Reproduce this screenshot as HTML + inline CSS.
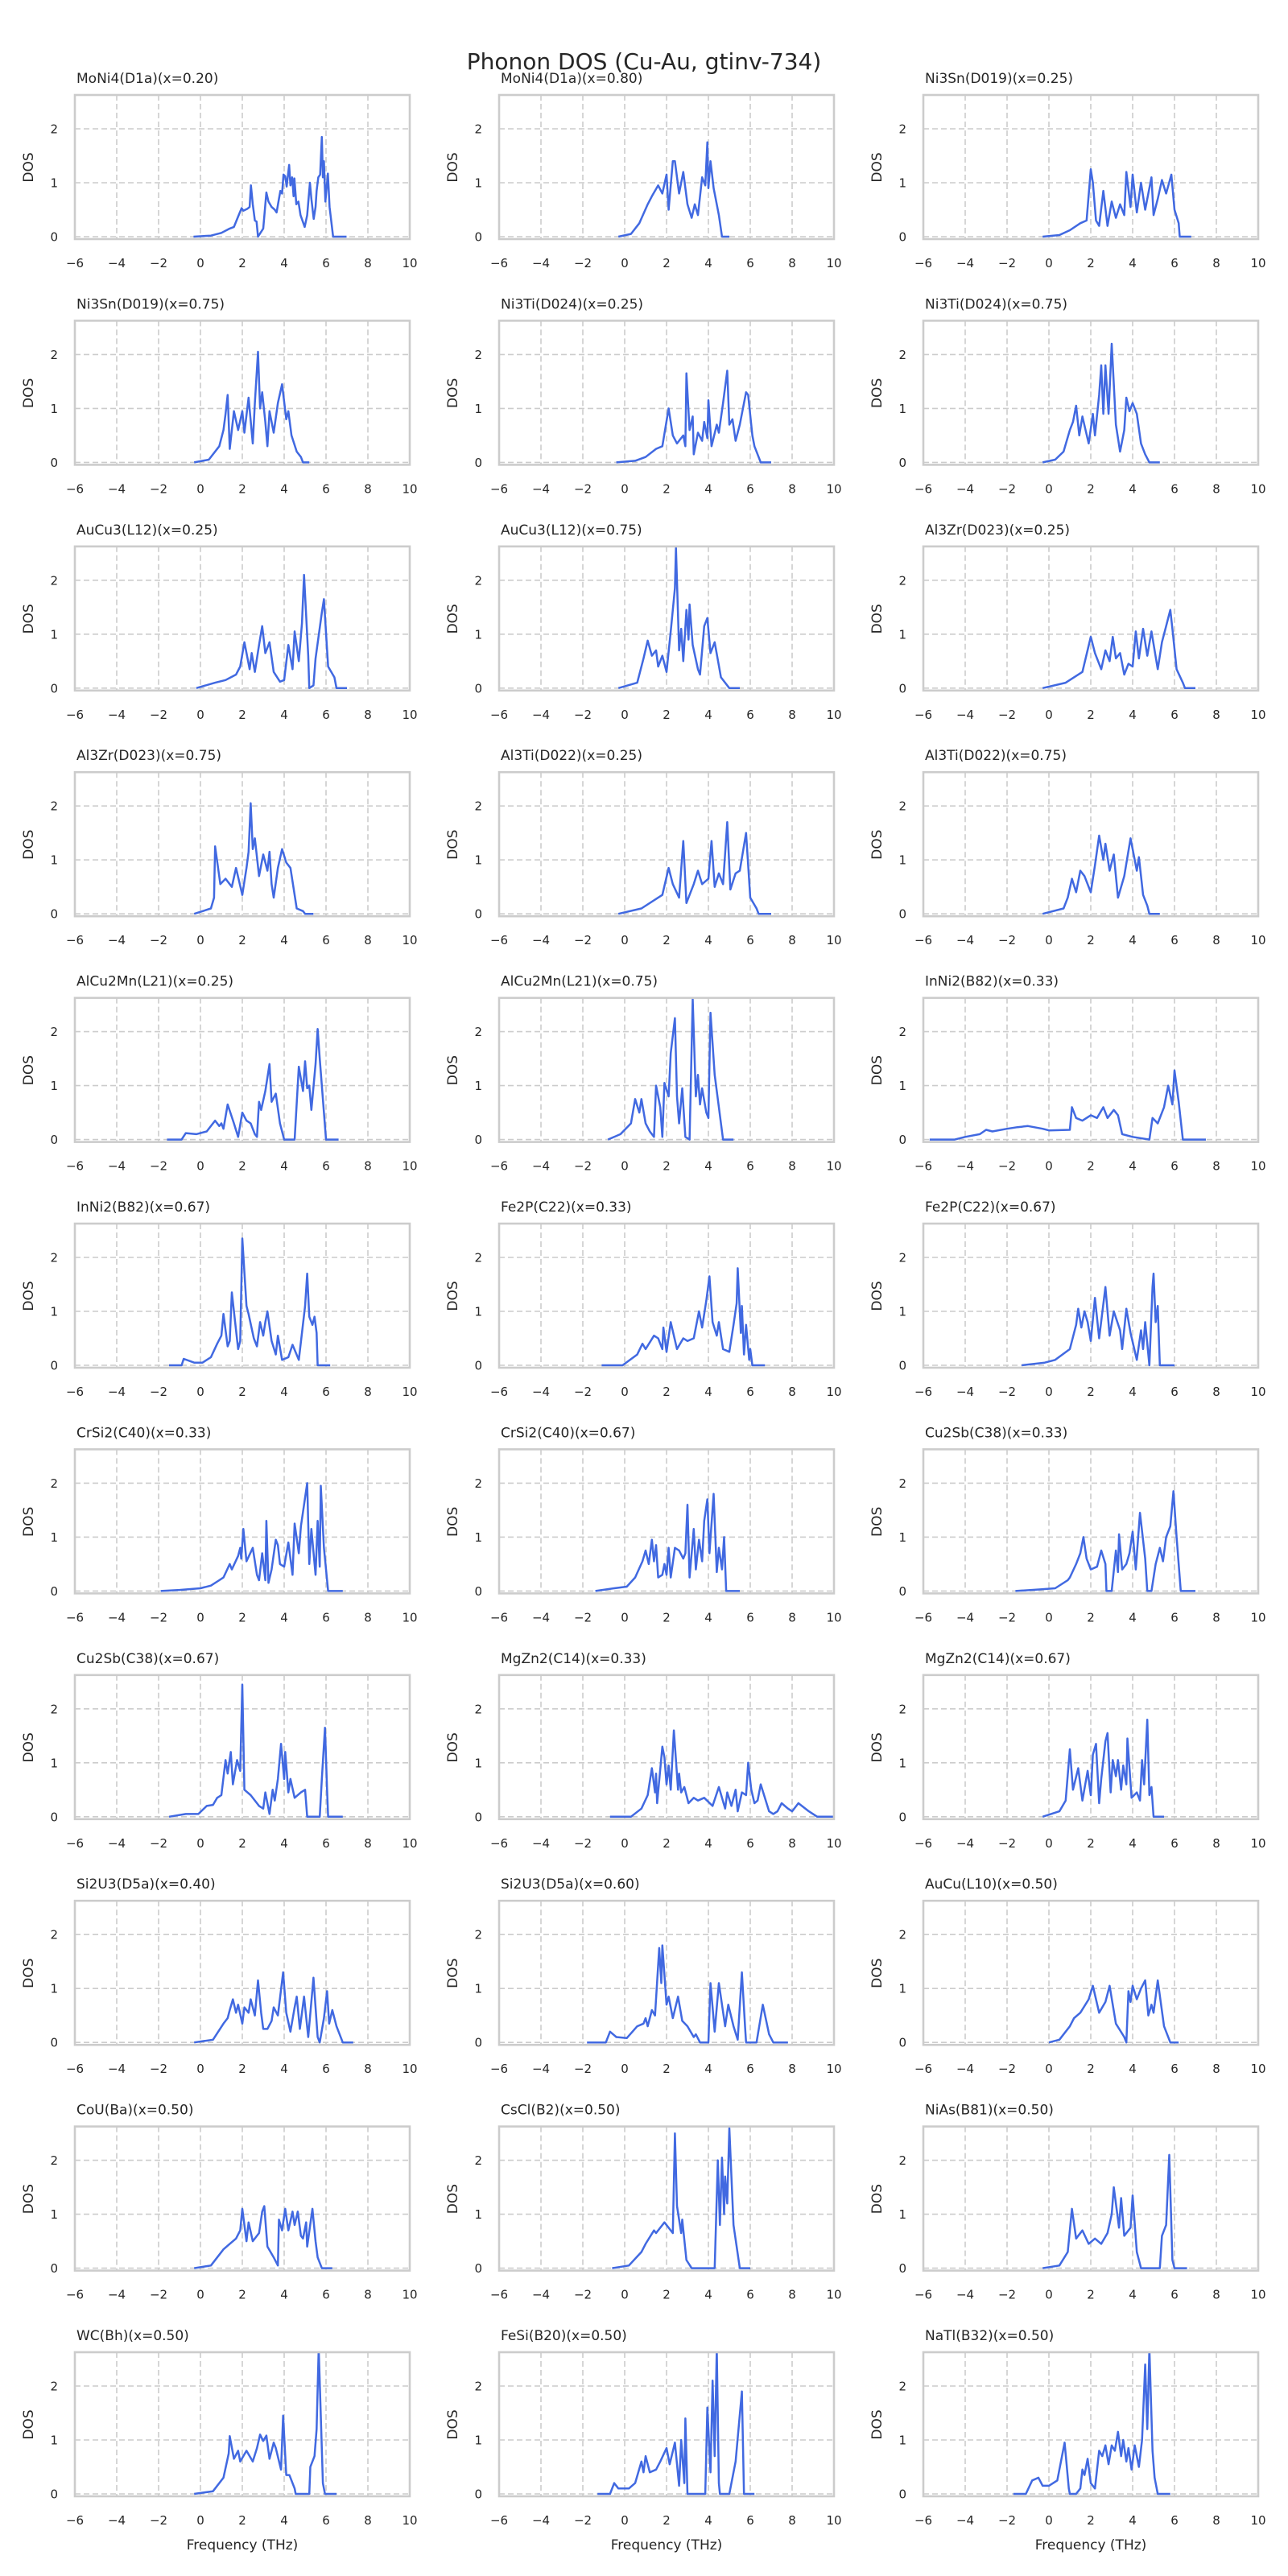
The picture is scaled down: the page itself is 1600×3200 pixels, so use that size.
<!DOCTYPE html>
<html><head><meta charset="utf-8"><style>
html,body{margin:0;padding:0;background:#fff}
svg{display:block}
text{font-family:"DejaVu Sans","Liberation Sans",sans-serif;fill:#262626}
</style></head><body>
<svg id="s" width="1600" height="3200" xmlns="http://www.w3.org/2000/svg">
<text x="800" y="86" font-size="28" text-anchor="middle">Phonon DOS (Cu-Au, gtinv-734)</text>
</svg>
<script>
var T=["MoNi4(D1a)(x=0.20)","MoNi4(D1a)(x=0.80)","Ni3Sn(D019)(x=0.25)","Ni3Sn(D019)(x=0.75)","Ni3Ti(D024)(x=0.25)","Ni3Ti(D024)(x=0.75)","AuCu3(L12)(x=0.25)","AuCu3(L12)(x=0.75)","Al3Zr(D023)(x=0.25)","Al3Zr(D023)(x=0.75)","Al3Ti(D022)(x=0.25)","Al3Ti(D022)(x=0.75)","AlCu2Mn(L21)(x=0.25)","AlCu2Mn(L21)(x=0.75)","InNi2(B82)(x=0.33)","InNi2(B82)(x=0.67)","Fe2P(C22)(x=0.33)","Fe2P(C22)(x=0.67)","CrSi2(C40)(x=0.33)","CrSi2(C40)(x=0.67)","Cu2Sb(C38)(x=0.33)","Cu2Sb(C38)(x=0.67)","MgZn2(C14)(x=0.33)","MgZn2(C14)(x=0.67)","Si2U3(D5a)(x=0.40)","Si2U3(D5a)(x=0.60)","AuCu(L10)(x=0.50)","CoU(Ba)(x=0.50)","CsCl(B2)(x=0.50)","NiAs(B81)(x=0.50)","WC(Bh)(x=0.50)","FeSi(B20)(x=0.50)","NaTl(B32)(x=0.50)"];
var D=[
[-0.33,0,0.5,0.02,1,0.07,1.4,0.15,1.6,0.18,1.85,0.42,1.97,0.53,2.05,0.48,2.25,0.52,2.35,0.55,2.41,0.95,2.5,0.6,2.6,0.3,2.68,0.28,2.75,0,3.0,0.15,3.15,0.82,3.25,0.65,3.4,0.55,3.55,0.5,3.64,0.45,3.75,0.7,3.82,0.85,3.9,0.8,3.97,1.15,4.05,1.12,4.12,0.93,4.24,1.33,4.3,0.95,4.38,1.1,4.45,0.75,4.49,1.08,4.58,0.6,4.68,0.65,4.78,0.4,4.98,0.18,5.1,0.4,5.23,1.0,5.3,0.7,5.41,0.33,5.5,0.55,5.55,0.85,5.63,1.1,5.72,1.15,5.8,1.85,5.85,1.1,5.9,1.4,5.97,0.65,6.09,1.17,6.17,0.55,6.34,0,6.98,0],
[-0.3,0,0.3,0.05,0.7,0.25,1.1,0.6,1.3,0.75,1.6,0.95,1.8,0.8,2.0,1.15,2.1,0.5,2.3,1.4,2.4,1.4,2.6,0.8,2.8,1.2,3.0,0.6,3.2,0.35,3.35,0.6,3.5,0.4,3.7,1.1,3.85,0.95,3.95,1.75,4.0,0.9,4.1,1.4,4.25,0.9,4.5,0.4,4.65,0,5.0,0],
[-0.3,0,0.5,0.03,1.0,0.12,1.5,0.25,1.8,0.3,2.0,1.25,2.1,1.0,2.25,0.3,2.4,0.2,2.6,0.85,2.8,0.2,3.0,0.65,3.2,0.35,3.4,0.6,3.6,0.4,3.7,1.2,3.9,0.55,4.0,1.15,4.2,0.45,4.4,1.0,4.6,0.5,4.9,1.1,5.0,0.4,5.2,0.7,5.4,1.05,5.6,0.8,5.85,1.15,6.0,0.5,6.2,0.25,6.25,0,6.8,0],
[-0.3,0,0.4,0.05,0.9,0.3,1.1,0.6,1.2,0.9,1.3,1.25,1.4,0.25,1.6,0.95,1.8,0.6,2.0,0.95,2.1,0.55,2.3,1.2,2.5,0.35,2.6,1.1,2.75,2.05,2.85,1.0,2.95,1.3,3.1,0.75,3.2,0.3,3.3,0.95,3.5,0.55,3.7,1.1,3.9,1.45,4.1,0.8,4.2,0.95,4.35,0.5,4.6,0.2,4.8,0.1,4.9,0,5.2,0],
[-0.4,0,0.5,0.03,1.0,0.1,1.5,0.25,1.8,0.3,2.1,1.0,2.3,0.5,2.5,0.35,2.8,0.5,2.9,0.3,2.95,1.65,3.1,0.6,3.25,0.85,3.3,0.15,3.5,0.55,3.7,0.4,3.8,0.75,3.95,0.45,4.0,1.15,4.15,0.3,4.4,0.7,4.5,0.55,4.7,1.1,4.9,1.7,5.0,0.7,5.15,0.8,5.3,0.4,5.5,0.7,5.8,1.3,5.9,1.25,6.1,0.5,6.2,0.3,6.5,0,7.0,0],
[-0.3,0,0.3,0.05,0.7,0.2,1.0,0.6,1.15,0.75,1.3,1.05,1.45,0.5,1.6,0.85,1.9,0.35,2.1,0.9,2.2,0.5,2.4,1.25,2.5,1.8,2.6,0.9,2.7,1.8,2.85,0.9,3.0,2.2,3.2,0.7,3.4,0.2,3.6,0.6,3.7,1.2,3.85,0.95,4.0,1.1,4.2,0.9,4.4,0.35,4.6,0.15,4.8,0,5.3,0],
[-0.2,0,0.7,0.1,1.2,0.15,1.7,0.25,1.9,0.4,2.1,0.85,2.35,0.35,2.45,0.65,2.6,0.3,2.8,0.8,2.95,1.15,3.1,0.65,3.3,0.85,3.5,0.3,3.8,0.12,4.0,0.15,4.2,0.8,4.4,0.35,4.5,1.05,4.7,0.5,4.85,1.2,4.95,2.1,5.15,0.6,5.2,0,5.4,0.05,5.5,0.55,5.8,1.4,5.9,1.65,6.1,0.4,6.4,0.2,6.5,0,7.0,0],
[-0.3,0,0.6,0.1,0.9,0.55,1.1,0.88,1.3,0.6,1.5,0.7,1.6,0.4,1.8,0.6,2.0,0.3,2.2,1.05,2.4,1.85,2.45,2.6,2.6,0.7,2.7,1.1,2.8,0.5,2.95,1.45,3.05,0.9,3.1,1.55,3.25,0.8,3.5,0.35,3.6,0.25,3.8,1.15,3.95,1.3,4.1,0.65,4.3,0.85,4.6,0.2,5.0,0,5.5,0],
[-0.3,0,0.8,0.1,1.6,0.3,2.0,0.95,2.2,0.65,2.5,0.35,2.7,0.7,2.9,0.5,3.05,0.95,3.2,0.55,3.4,0.65,3.6,0.25,3.8,0.45,4.0,0.4,4.15,1.05,4.3,0.55,4.5,1.1,4.7,0.6,4.9,1.05,5.2,0.35,5.4,0.85,5.6,1.15,5.8,1.45,5.9,1.1,6.1,0.35,6.4,0.1,6.5,0,7.0,0],
[-0.3,0,0.5,0.1,0.65,0.3,0.7,1.25,0.95,0.55,1.2,0.65,1.5,0.5,1.7,0.85,2.0,0.35,2.2,0.85,2.3,1.15,2.4,2.05,2.5,1.2,2.6,1.4,2.8,0.7,3.0,1.1,3.2,0.8,3.3,1.15,3.4,0.55,3.5,0.3,3.7,0.85,3.9,1.2,4.1,0.95,4.3,0.85,4.4,0.6,4.6,0.1,4.9,0.05,5.0,0,5.4,0],
[-0.3,0,0.8,0.1,1.8,0.35,2.1,0.85,2.3,0.55,2.6,0.3,2.8,1.35,2.95,0.2,3.3,0.55,3.5,0.8,3.7,0.55,4.0,0.65,4.15,1.35,4.3,0.5,4.5,0.75,4.7,0.55,4.9,1.7,5.05,0.45,5.3,0.75,5.5,0.8,5.8,1.5,6.0,0.3,6.3,0.1,6.4,0,7.0,0],
[-0.3,0,0.7,0.1,0.9,0.3,1.1,0.65,1.3,0.4,1.5,0.8,1.7,0.7,2.0,0.4,2.2,0.9,2.4,1.45,2.6,1.0,2.7,1.3,2.9,0.8,3.1,1.1,3.3,0.3,3.6,0.7,3.9,1.4,4.1,1.0,4.2,0.8,4.3,1.05,4.5,0.35,4.7,0.15,4.8,0,5.3,0],
[-1.6,0,-0.9,0,-0.7,0.12,-0.2,0.1,0.3,0.15,0.7,0.35,0.9,0.25,1.0,0.3,1.1,0.2,1.3,0.65,1.6,0.3,1.8,0.05,2.0,0.5,2.2,0.35,2.4,0.3,2.6,0.1,2.7,0.05,2.8,0.7,2.9,0.55,3.1,0.9,3.3,1.4,3.4,0.7,3.6,0.85,3.8,0.3,4.0,0,4.5,0,4.7,1.35,4.9,0.9,5.0,1.45,5.1,0.95,5.2,1.0,5.3,0.55,5.5,1.4,5.6,2.05,5.7,1.5,5.9,0.5,6.0,0,6.6,0],
[-0.8,0,-0.2,0.1,0.3,0.3,0.5,0.75,0.7,0.5,0.8,0.75,1.0,0.3,1.2,0.15,1.4,0.05,1.5,1.0,1.7,0.6,1.8,0.05,1.9,1.05,2.1,0.8,2.2,1.6,2.4,2.25,2.5,0.8,2.6,0.3,2.75,0.95,2.9,0.05,3.1,0,3.25,2.6,3.4,0.8,3.5,1.2,3.6,0.65,3.7,0.95,3.9,0.5,4.0,0.4,4.1,2.35,4.3,1.2,4.5,0.6,4.7,0,5.2,0],
[-5.7,0,-4.5,0,-4.0,0.05,-3.3,0.1,-3.0,0.18,-2.7,0.15,-2.0,0.2,-1.5,0.23,-1.0,0.25,-0.3,0.2,0,0.17,1.0,0.18,1.1,0.6,1.3,0.4,1.6,0.35,2.0,0.45,2.3,0.4,2.6,0.6,2.8,0.4,3.1,0.55,3.3,0.45,3.5,0.1,4.0,0.05,4.8,0,4.95,0.4,5.2,0.3,5.5,0.6,5.7,1.0,5.9,0.65,6.0,1.28,6.2,0.7,6.4,0,7.5,0],
[-1.5,0,-0.9,0,-0.8,0.12,-0.3,0.05,0.1,0.05,0.5,0.15,0.8,0.4,1.0,0.55,1.1,0.95,1.3,0.35,1.4,0.45,1.5,1.35,1.8,0.3,1.9,0.45,2.0,2.35,2.2,1.1,2.3,0.95,2.55,0.5,2.7,0.35,2.85,0.8,3.0,0.55,3.1,0.8,3.2,1.0,3.4,0.45,3.6,0.2,3.7,0.55,3.9,0.1,4.2,0.15,4.4,0.38,4.7,0.1,5.0,1.1,5.1,1.7,5.2,0.9,5.35,0.75,5.45,0.9,5.55,0.6,5.6,0,6.2,0],
[-1.1,0,-0.1,0,0.6,0.2,0.85,0.4,1.0,0.3,1.4,0.55,1.6,0.5,1.8,0.3,1.85,0.7,2.0,0.25,2.2,0.8,2.5,0.3,2.8,0.5,3.0,0.45,3.3,0.5,3.55,1.0,3.7,0.7,3.9,1.2,4.05,1.65,4.2,0.8,4.4,0.55,4.5,0.8,4.7,0.3,5.0,0.25,5.2,0.75,5.35,1.15,5.4,1.8,5.55,0.6,5.6,1.1,5.7,0.2,5.8,0.75,5.95,0.1,6.0,0.3,6.1,0,6.7,0],
[-1.3,0,-0.2,0.05,0.3,0.1,1.0,0.3,1.2,0.6,1.3,0.75,1.4,1.05,1.55,0.7,1.7,1.0,1.85,0.8,2.0,0.45,2.2,1.25,2.4,0.5,2.7,1.45,2.9,0.55,3.1,1.0,3.4,0.65,3.5,0.3,3.7,1.05,3.9,0.6,4.2,0.1,4.4,0.65,4.5,0.3,4.6,0.8,4.8,0,4.95,1.45,5.0,1.7,5.1,0.8,5.2,1.1,5.3,0,6.0,0],
[-1.9,0,-1.0,0.02,0,0.05,0.5,0.1,0.9,0.2,1.1,0.25,1.4,0.5,1.5,0.4,1.8,0.65,1.9,0.8,1.95,0.6,2.05,1.15,2.2,0.55,2.5,0.8,2.7,0.3,2.8,0.2,2.95,0.7,3.1,0.2,3.15,1.3,3.25,0.15,3.4,0.4,3.6,0.95,3.7,0.85,3.8,0.5,4.0,0.45,4.2,0.9,4.4,0.3,4.5,1.25,4.7,0.7,4.8,1.2,5.1,2.0,5.2,0.5,5.3,1.15,5.5,0.3,5.6,1.3,5.7,0.45,5.75,1.95,5.9,0.8,6.1,0,6.8,0],
[-1.4,0,-0.5,0.05,0.1,0.08,0.5,0.25,0.85,0.55,1.0,0.75,1.15,0.5,1.3,0.95,1.4,0.55,1.5,0.85,1.6,0.25,1.8,0.3,1.9,0.5,2.0,0.3,2.1,0.8,2.2,0.25,2.4,0.8,2.6,0.75,2.8,0.6,2.9,0.7,3.0,1.6,3.1,0.25,3.3,1.15,3.4,0.4,3.55,0.95,3.7,0.55,3.8,1.3,3.95,1.7,4.05,0.7,4.25,1.8,4.4,0.35,4.5,0.8,4.65,0.4,4.75,1.0,4.85,0,5.5,0],
[-1.6,0,-0.4,0.03,0.3,0.05,0.9,0.2,1.0,0.25,1.3,0.5,1.5,0.7,1.65,1.0,1.8,0.6,2.0,0.4,2.3,0.45,2.5,0.75,2.7,0.5,2.75,0,3.0,0,3.2,0.75,3.3,0.35,3.35,1.05,3.5,0.4,3.7,0.5,3.85,0.7,4.0,1.1,4.15,0.4,4.35,1.45,4.6,0.6,4.7,0,4.9,0,5.1,0.5,5.3,0.8,5.45,0.55,5.6,1.0,5.8,1.2,5.95,1.85,6.1,1.0,6.3,0,7.0,0],
[-1.5,0,-0.7,0.05,-0.1,0.05,0.3,0.2,0.6,0.22,0.8,0.35,1.0,0.4,1.2,1.05,1.3,0.8,1.45,1.2,1.55,0.6,1.75,1.05,1.9,0.85,2.0,2.45,2.1,0.5,2.4,0.4,2.7,0.25,2.8,0.2,3.0,0.15,3.1,0.45,3.3,0.05,3.45,0.5,3.55,0.3,3.7,0.7,3.85,1.35,4.0,0.7,4.05,1.2,4.2,0.45,4.3,0.7,4.5,0.35,4.8,0.45,5.0,0.5,5.1,0,5.7,0,5.8,0.7,5.95,1.65,6.05,0.5,6.1,0,6.8,0],
[-0.7,0,0.3,0,0.8,0.15,1.1,0.4,1.3,0.9,1.45,0.45,1.5,0.8,1.55,0.25,1.8,1.3,1.9,1.1,2.0,0.6,2.1,0.95,2.2,0.5,2.35,1.6,2.55,0.5,2.6,0.8,2.7,0.45,2.85,0.55,3.05,0.25,3.3,0.35,3.5,0.3,3.8,0.35,4.2,0.2,4.5,0.55,4.8,0.15,4.9,0.45,5.1,0.2,5.3,0.5,5.4,0.1,5.6,0.45,5.8,0.4,5.9,1.0,6.05,0.5,6.2,0.25,6.35,0.3,6.5,0.6,6.9,0.1,7.1,0.05,7.3,0.1,7.5,0.25,7.8,0.15,8.0,0.1,8.3,0.25,8.8,0.1,9.2,0,10,0],
[-0.3,0,0.5,0.1,0.8,0.3,1.0,1.25,1.15,0.5,1.4,0.9,1.6,0.3,1.85,0.85,2.0,0.4,2.1,1.15,2.25,1.35,2.4,0.25,2.5,0.7,2.7,1.4,2.8,1.55,2.95,0.45,3.05,1.05,3.2,0.75,3.3,1.05,3.45,0.5,3.55,0.95,3.7,0.6,3.75,1.45,3.95,0.35,4.2,0.45,4.35,0.3,4.45,1.05,4.55,0.6,4.7,1.8,4.8,0.4,4.9,0.55,5.0,0,5.5,0],
[-0.3,0,0.6,0.05,1.1,0.35,1.3,0.45,1.4,0.6,1.55,0.8,1.7,0.55,1.8,0.7,2.0,0.35,2.1,0.65,2.3,0.55,2.4,0.8,2.6,0.5,2.75,1.15,2.9,0.55,3.0,0.25,3.2,0.25,3.4,0.4,3.5,0.65,3.7,0.5,3.95,1.3,4.1,0.55,4.3,0.2,4.5,0.65,4.6,0.85,4.75,0.25,4.95,0.85,5.15,0.1,5.4,1.2,5.6,0.1,5.7,0,5.9,0.45,6.05,0.95,6.15,0.35,6.3,0.6,6.5,0.3,6.8,0,7.3,0],
[-1.8,0,-0.9,0,-0.7,0.2,-0.4,0.1,0.1,0.08,0.6,0.3,0.9,0.35,1.0,0.45,1.1,0.3,1.3,0.6,1.45,0.5,1.65,1.75,1.75,1.1,1.8,1.8,2.0,0.7,2.1,0.85,2.3,0.45,2.55,0.85,2.75,0.4,3.0,0.3,3.3,0.1,3.4,0.15,3.6,0,4.0,0,4.1,1.1,4.3,0.2,4.5,1.1,4.8,0.3,4.95,0.7,5.2,0.3,5.4,0.05,5.6,1.3,5.75,0.3,5.8,0,6.3,0,6.6,0.7,6.9,0.15,7.1,0,7.8,0],
[0,0,0.5,0.05,1.0,0.3,1.2,0.45,1.5,0.55,1.9,0.8,2.1,1.05,2.4,0.55,2.7,0.75,2.9,1.05,3.2,0.35,3.6,0.1,3.7,0,3.8,0.95,3.9,0.75,4.0,1.05,4.2,0.8,4.4,1.0,4.6,1.15,4.75,0.5,4.9,0.7,5.0,0.55,5.2,1.15,5.5,0.3,5.8,0,6.2,0],
[-0.3,0,0.5,0.05,1.1,0.35,1.4,0.45,1.7,0.55,1.9,0.7,2.0,1.1,2.2,0.5,2.3,0.85,2.5,0.5,2.8,0.65,2.95,1.05,3.05,1.15,3.2,0.4,3.5,0.2,3.7,0.05,3.75,0.9,3.9,0.7,4.05,1.1,4.2,0.7,4.4,1.05,4.5,0.8,4.65,1.05,4.8,0.6,4.9,0.55,5.05,0.85,5.1,0.4,5.35,1.1,5.5,0.5,5.6,0.2,5.8,0,6.3,0],
[-0.6,0,0.2,0.05,0.8,0.3,1.0,0.45,1.4,0.7,1.5,0.65,1.9,0.85,2.3,0.65,2.4,2.5,2.5,1.15,2.7,0.65,2.75,0.9,2.95,0.15,3.2,0,4.3,0,4.45,2.0,4.55,0.8,4.65,2.05,4.75,1.0,4.8,1.7,4.9,1.2,5.0,2.6,5.2,0.8,5.5,0,6.0,0],
[-0.3,0,0.5,0.05,0.9,0.3,1.1,1.1,1.3,0.55,1.6,0.7,1.9,0.45,2.2,0.55,2.5,0.45,2.8,0.65,3.0,1.0,3.1,1.5,3.35,0.75,3.45,1.3,3.6,0.6,3.9,0.75,4.0,1.35,4.2,0.3,4.4,0,5.3,0,5.4,0.6,5.6,0.8,5.75,2.1,5.9,0.15,6.0,0,6.6,0],
[-0.3,0,0.6,0.05,1.1,0.3,1.35,0.75,1.4,1.07,1.6,0.65,1.8,0.8,1.9,0.6,2.2,0.8,2.5,0.6,2.7,0.85,2.85,1.1,3.0,0.98,3.15,1.08,3.3,0.65,3.5,0.95,3.6,0.85,3.85,0.45,3.95,1.45,4.1,0.35,4.25,0.35,4.5,0.1,4.55,0,5.2,0,5.25,0.5,5.45,0.7,5.55,1.2,5.65,2.7,5.85,0.2,5.95,0,6.5,0],
[-1.3,0,-0.7,0,-0.5,0.2,-0.3,0.1,0.2,0.1,0.5,0.2,0.8,0.6,0.9,0.4,1.0,0.7,1.2,0.4,1.5,0.45,1.7,0.6,2.0,0.85,2.15,0.55,2.4,0.95,2.6,0.15,2.7,1.0,2.85,0.2,2.9,1.4,3.0,0,3.85,0,3.95,1.6,4.1,0.4,4.2,2.1,4.3,0.7,4.4,2.7,4.5,0.2,4.55,0,5.0,0,5.3,0.6,5.6,1.9,5.7,0,6.2,0],
[-1.7,0,-1.1,0,-0.8,0.25,-0.5,0.3,-0.3,0.15,0,0.15,0.4,0.25,0.75,0.95,0.95,0.1,1.0,0,1.3,0,1.5,0.1,1.6,0.45,1.7,0.35,1.85,0.65,2.0,0.2,2.2,0.1,2.4,0.8,2.55,0.7,2.7,0.9,2.85,0.55,3.0,0.9,3.15,0.8,3.3,1.15,3.45,0.7,3.55,1.0,3.7,0.6,3.8,0.85,3.95,0.45,4.1,0.9,4.3,0.5,4.45,1.0,4.6,2.4,4.7,1.2,4.8,2.7,4.95,0.8,5.05,0.3,5.2,0,5.8,0]
];
var NS="http://www.w3.org/2000/svg",s=document.getElementById('s');
function el(n,a,t){var e=document.createElementNS(NS,n);for(var k in a)e.setAttribute(k,a[k]);if(t!=null)e.textContent=t;s.appendChild(e);return e;}
var cols=[93,620,1147],W=416,H=179,sx=26,sy=67;
var defs=el('defs',{});
for(var i=0;i<33;i++){
 var r=Math.floor(i/3),c=i%3,X=cols[c],Y=118+280.4*r,y0=Y+176;
 var cp=document.createElementNS(NS,'clipPath');cp.setAttribute('id','c'+i);
 var cr=document.createElementNS(NS,'rect');cr.setAttribute('x',X);cr.setAttribute('y',Y);cr.setAttribute('width',W);cr.setAttribute('height',H);cp.appendChild(cr);defs.appendChild(cp);
 for(var t=-4;t<=8;t+=2){var px=X+(t+6)*sx;el('line',{x1:px,x2:px,y1:Y,y2:Y+H,stroke:'#cccccc','stroke-width':1.6,'stroke-dasharray':'7,4'});}
 for(var v=0;v<=2;v++){var py=y0-v*sy;el('line',{x1:X,x2:X+W,y1:py,y2:py,stroke:'#cccccc','stroke-width':1.6,'stroke-dasharray':'7,4'});
  el('text',{x:X-21,y:py+5.5,'font-size':15,'text-anchor':'end'},String(v));}
 for(var t=-6;t<=10;t+=2){var px=X+(t+6)*sx;el('text',{x:px,y:Y+H+35,'font-size':15,'text-anchor':'middle'},(t<0?'\u2212'+(-t):String(t)));}
 var d=D[i],p='';for(var k=0;k<d.length;k+=2){p+=(k?'L':'M')+(X+(d[k]+6)*sx).toFixed(1)+','+(y0-d[k+1]*sy).toFixed(1);}
 el('path',{d:p,fill:'none',stroke:'#4169e1','stroke-width':2.5,'stroke-linejoin':'round','clip-path':'url(#c'+i+')'});
 el('rect',{x:X,y:Y,width:W,height:H,fill:'none',stroke:'#cccccc','stroke-width':2.6});
 el('text',{x:X+2,y:Y-15,'font-size':17},T[i]);
 el('text',{x:0,y:0,'font-size':17,'text-anchor':'middle',transform:'translate('+(X-52)+','+(Y+90)+') rotate(-90)'},'DOS');
 if(r==10)el('text',{x:X+W/2,y:Y+H+66,'font-size':17,'text-anchor':'middle'},'Frequency (THz)');
}
</script>
</body></html>
